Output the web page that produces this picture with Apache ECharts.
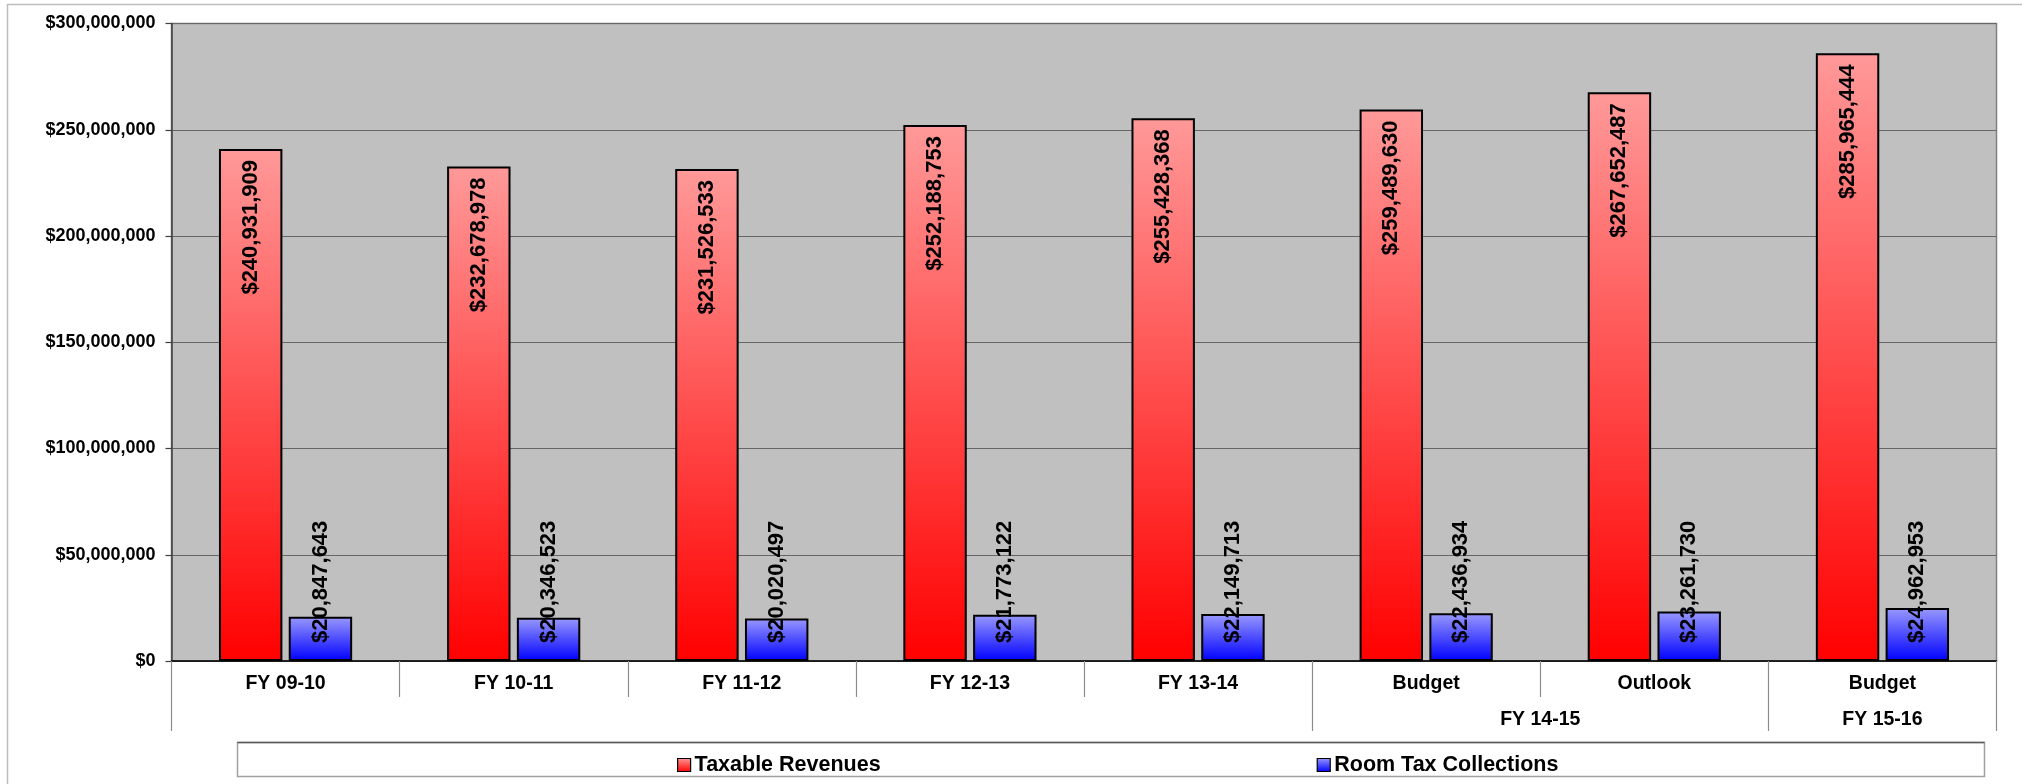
<!DOCTYPE html>
<html>
<head>
<meta charset="utf-8">
<script src="https://cdn.jsdelivr.net/npm/echarts@6/dist/echarts.min.js"></script>
<style>
html,body{margin:0;padding:0;background:#fff;}
#chart{width:2022px;height:784px;}
</style>
</head>
<body>
<div id="chart"></div>
<script>
const categories = ['FY 09-10', 'FY 10-11', 'FY 11-12', 'FY 12-13', 'FY 13-14', 'Budget', 'Outlook', 'Budget'];
const groupNames = ['', 'FY 14-15', 'FY 15-16'];
const groupSpans = [5, 2, 1];
const seriesNames = ['Taxable Revenues', 'Room Tax Collections'];
const taxableRevenues = [240931909, 232678978, 231526533, 252188753, 255428368, 259489630, 267652487, 285965444];
const roomTaxCollections = [20847643, 20346523, 20020497, 21773122, 22149713, 22436934, 23261730, 24962953];
const yMin = 0, yMax = 300000000, yStep = 50000000;

const FONT = '"Liberation Sans", Arial, sans-serif';
const money = v => '$' + Math.round(v).toLocaleString('en-US');

// Build the half-slot group axis (boundaries and centered group labels)
const nSlots = categories.length * 2 + 1;
const groupKeys = [], groupLabels = [];
for (let i = 0; i < nSlots; i++) { groupKeys.push('s' + i); groupLabels.push(''); }
const boundaries = new Set([0]);
let acc = 0;
groupSpans.forEach((s, i) => {
  const start = acc * 2, end = (acc + s) * 2;
  groupLabels[(start + end) / 2] = groupNames[i];
  boundaries.add(end);
  acc += s;
});

const chart = echarts.init(document.getElementById('chart'), null, {renderer: 'canvas'});

const redGrad = new echarts.graphic.LinearGradient(0, 0, 0, 1, [
  {offset: 0, color: '#FF9999'}, {offset: 1, color: '#FF0000'}]);
const blueGrad = new echarts.graphic.LinearGradient(0, 0, 0, 1, [
  {offset: 0, color: '#9999FF'}, {offset: 1, color: '#0000FF'}]);

const option = {
  animation: false,
  backgroundColor: '#fff',
  textStyle: {fontFamily: FONT},
  grid: {
    left: 171.5, right: 25.5, top: 23.5, bottom: 123,
    show: true, backgroundColor: '#C0C0C0', borderColor: '#808080', borderWidth: 1.5,
    containLabel: false, outerBoundsMode: 'none'
  },
  legend: {
    data: seriesNames,
    left: 672, top: 749,
    itemWidth: 13, itemHeight: 13, itemGap: 436,
    icon: 'rect',
    itemStyle: {borderColor: '#000', borderWidth: 1.2},
    textStyle: {fontFamily: FONT, fontSize: 21.5, fontWeight: 'bold', color: '#000', padding: [0, 0, 0, -1]}
  },
  graphic: [
    {type: 'rect', z: -10, silent: true, shape: {x: 7.5, y: 4.5, width: 2100, height: 900},
     style: {fill: 'none', stroke: '#BDBDBD', lineWidth: 1.5}},
    {type: 'rect', z: -5, silent: true, shape: {x: 237.5, y: 742.5, width: 1747, height: 34},
     style: {fill: '#fff', stroke: '#A0A0A0', lineWidth: 1.5}},
    {type: 'line', z: -4, silent: true, shape: {x1: 237.5, y1: 742.5, x2: 1984.5, y2: 742.5},
     style: {stroke: '#5A5A5A', lineWidth: 1.5}}
  ],
  xAxis: [
    {
      type: 'category', data: categories, gridIndex: 0, position: 'bottom',
      boundaryGap: true,
      axisLine: {show: true, lineStyle: {color: '#000', width: 1.5}},
      axisTick: {show: true, length: 36, lineStyle: {color: '#8C8C8C', width: 1.2}},
      axisLabel: {margin: 13, fontFamily: FONT, fontSize: 19.5, fontWeight: 'bold', color: '#000',
                  lineHeight: 20, interval: 0},
      splitLine: {show: false}
    },
    {
      type: 'category', data: groupKeys, gridIndex: 0, position: 'bottom', offset: 36,
      boundaryGap: false,
      axisLine: {show: false},
      axisTick: {show: true, length: 34, interval: (idx) => boundaries.has(idx),
                 lineStyle: {color: '#8C8C8C', width: 1.2}},
      axisLabel: {margin: 13, fontFamily: FONT, fontSize: 19.5, fontWeight: 'bold', color: '#000',
                  lineHeight: 20, interval: 0, hideOverlap: false,
                  formatter: (v, idx) => groupLabels[idx] || ''},
      splitLine: {show: false}
    }
  ],
  yAxis: {
    type: 'value', min: yMin, max: yMax, interval: yStep,
    axisLine: {show: true, lineStyle: {color: '#404040', width: 1.5}},
    axisTick: {show: true, length: 6, lineStyle: {color: '#404040', width: 1.2}},
    axisLabel: {margin: 16, fontFamily: FONT, fontSize: 18, fontWeight: 'bold', color: '#000',
                formatter: v => money(v)},
    splitLine: {show: true, lineStyle: {color: '#666666', width: 1.2}}
  },
  series: [
    {
      name: seriesNames[0], type: 'bar', xAxisIndex: 0, data: taxableRevenues,
      barWidth: '27.8%', barGap: '10%',
      itemStyle: {color: redGrad, borderColor: '#000', borderWidth: 2},
      label: {show: true, position: 'insideTop', distance: 11, rotate: 90,
              align: 'right', verticalAlign: 'middle',
              fontFamily: FONT, fontSize: 22, fontWeight: 'bold', color: '#000',
              formatter: p => money(p.value)}
    },
    {
      name: seriesNames[1], type: 'bar', xAxisIndex: 0, data: roomTaxCollections,
      barWidth: '27.8%', barGap: '10%',
      itemStyle: {color: blueGrad, borderColor: '#000', borderWidth: 2},
      label: {show: true, position: 'insideBottom', distance: 18, rotate: 90,
              align: 'left', verticalAlign: 'middle',
              fontFamily: FONT, fontSize: 22, fontWeight: 'bold', color: '#000',
              formatter: p => money(p.value)}
    }
  ]
};
chart.setOption(option);
</script>
</body>
</html>
